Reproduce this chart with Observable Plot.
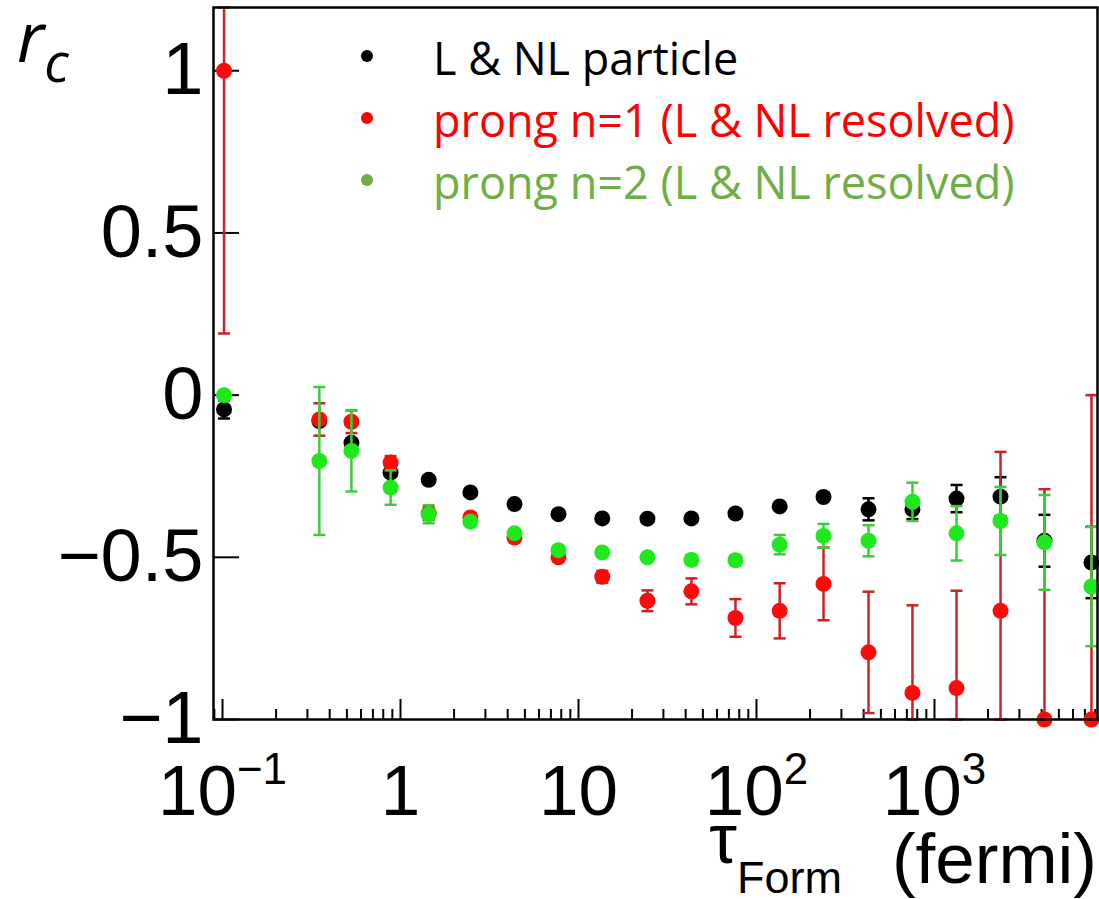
<!DOCTYPE html>
<html><head><meta charset="utf-8">
<script src="https://cdn.jsdelivr.net/npm/d3@7"></script>
<script src="https://cdn.jsdelivr.net/npm/@observablehq/plot@0.6"></script>
<style>html,body{margin:0;padding:0;background:#fff;} svg{display:block;}</style>
</head><body><div id="chart"></div>
<script>
// ---- data ----
const tau = [0.102, 0.35, 0.53, 0.88, 1.44, 2.47, 4.37, 7.72, 13.6, 24.4, 43.1, 76.2, 135, 238, 426, 752, 1330, 2350, 4150, 7620];
const blackY   = [-0.044, -0.08, -0.147, -0.239, -0.261, -0.300, -0.336, -0.367, -0.380, -0.381, -0.380, -0.365, -0.343, -0.314, -0.352, -0.352, -0.319, -0.313, -0.449, -0.516];
const blackErr = [0.028, 0.01, 0.01, 0.01, 0.01, 0.01, 0.01, 0.01, 0.01, 0.01, 0.01, 0.01, 0.01, 0.012, 0.034, 0.03, 0.042, 0.06, 0.08, 0.11];
const redY   = [1.0, -0.075, -0.082, -0.208, -0.365, -0.377, -0.439, -0.500, -0.560, -0.634, -0.605, -0.687, -0.665, -0.582, -0.793, -0.918, -0.903, -0.665, -1.0, -1.0];
const redErr = [0.81, 0.05, 0.035, 0.02, 0.02, 0.012, 0.012, 0.012, 0.018, 0.032, 0.04, 0.058, 0.085, 0.112, 0.187, 0.27, 0.30, 0.49, 0.71, 1.0];
const greenY   = [0.0, -0.203, -0.172, -0.285, -0.367, -0.390, -0.426, -0.478, -0.485, -0.500, -0.508, -0.509, -0.461, -0.434, -0.449, -0.329, -0.426, -0.388, -0.454, -0.590];
const greenErr = [0.005, 0.228, 0.125, 0.053, 0.028, 0.01, 0.01, 0.008, 0.008, 0.008, 0.015, 0.015, 0.03, 0.037, 0.048, 0.059, 0.084, 0.105, 0.146, 0.184];

const seriesNames = ["L & NL particle", "prong n=1 (L & NL resolved)", "prong n=2 (L & NL resolved)"];
const legendColors = ["#000000", "#ff0000", "#70ad47"];
const dotColors = ["#000000", "#ff0a0a", "#1fe81f"];
const barColors = ["#000000", "#cc2226", "#3ccc3c"];

const majorTicks = [0.1, 1, 10, 100, 1000];
const xTickLabels = ["10^\u22121", "1", "10", "10^2", "10^3"];
const yTicks = [-1, -0.5, 0, 0.5, 1];
const yTickLabels = ["\u22121", "\u22120.5", "0", "0.5", "1"];

const xDomain = [0.089, 8240];
const yDomain = [-1, 1.195];

// ---- layout ----
const W = 1099, H = 899, mL = 213, mR = 2, mT = 7, mB = 180;
const fw = W - mL - mR, fh = H - mT - mB;

const minorTicks = [];
for (let e = -2; e <= 3; e++) for (let m = 2; m <= 9; m++) {
  const v = m * Math.pow(10, e);
  if (v >= xDomain[0] && v <= xDomain[1]) minorTicks.push(v);
}

const allY = [blackY, redY, greenY], allE = [blackErr, redErr, greenErr];
const rowsBySeries = allY.map((ys, s) => tau.map((t, i) => ({
  x: t, y: ys[i],
  lo: Math.max(ys[i] - allE[s][i], yDomain[0]),
  hi: Math.min(ys[i] + allE[s][i], yDomain[1])
})));

const capSymbol = {draw(ctx, size) { const w = Math.sqrt(size / Math.PI); ctx.moveTo(-w, 0); ctx.lineTo(w, 0); }};

const marks = [
  Plot.tickX(minorTicks, {x: d => d, stroke: "#000", strokeWidth: 2, insetTop: fh - 10}),
  Plot.tickX(majorTicks, {x: d => d, stroke: "#000", strokeWidth: 2, insetTop: fh - 20}),
  Plot.tickY(yTicks, {y: d => d, stroke: "#000", strokeWidth: 2, insetRight: fw - 26})
];
rowsBySeries.forEach((rows, s) => {
  marks.push(Plot.ruleX(rows, {x: "x", y1: "lo", y2: "hi", stroke: barColors[s], strokeWidth: 2.5}));
  marks.push(Plot.dot(rows, {x: "x", y: "lo", symbol: capSymbol, r: 6, stroke: barColors[s], strokeWidth: 2.5, fill: "none"}));
  marks.push(Plot.dot(rows, {x: "x", y: "hi", symbol: capSymbol, r: 6, stroke: barColors[s], strokeWidth: 2.5, fill: "none"}));
  marks.push(Plot.dot(rows, {x: "x", y: "y", r: 8, fill: dotColors[s], stroke: "none"}));
});
marks.push(Plot.axisX(majorTicks, {tickSize: 0, tickPadding: 45, fontSize: 71, label: null,
  tickFormat: d => xTickLabels[majorTicks.indexOf(d)]}));
marks.push(Plot.axisY(yTicks, {tickSize: 0, tickPadding: 10, fontSize: 74, label: null,
  tickFormat: d => yTickLabels[yTicks.indexOf(d)]}));
marks.push(Plot.frame({stroke: "#000", strokeWidth: 2.5}));

const svg = Plot.plot({
  width: W, height: H,
  marginLeft: mL, marginRight: mR, marginTop: mT, marginBottom: mB,
  x: {type: "log", domain: xDomain},
  y: {domain: yDomain},
  style: {fontFamily: "'Liberation Sans', Arial, sans-serif", background: "#fff", color: "#000"},
  marks
});
document.getElementById("chart").appendChild(svg);

const S = d3.select(svg);
// superscripts on x tick labels
S.selectAll("g[aria-label='x-axis tick label'] text").each(function () {
  const t = this.textContent, i = t.indexOf("^");
  if (i < 0) return;
  this.textContent = t.slice(0, i);
  d3.select(this).append("tspan").attr("font-size", 44).attr("dy", -31).text(t.slice(i + 1));
});

// legend
const lg = S.append("g").attr("font-family", "'Open Sans', sans-serif").attr("font-size", 45);
seriesNames.forEach((name, i) => {
  const yb = 75 + i * 62;
  lg.append("circle").attr("cx", 367).attr("cy", yb - 19).attr("r", 6).attr("fill", legendColors[i]);
  lg.append("text").attr("x", 433).attr("y", yb).attr("text-anchor", "start").attr("fill", legendColors[i]).text(name);
});

// y title r_c
const yt = S.append("text").attr("x", 17).attr("y", 62).attr("text-anchor", "start")
  .attr("font-family", "'Open Sans', sans-serif")
  .attr("font-style", "italic").attr("font-size", 69).attr("fill", "#000");
yt.append("tspan").text("r");
yt.append("tspan").attr("font-size", 54).attr("dy", 20).text("c");

// x title tau_Form (fermi)
const xt = S.append("text").attr("x", 842).attr("y", 863).attr("text-anchor", "end")
  .attr("font-family", "'Liberation Sans', Arial, sans-serif").attr("font-size", 70).attr("fill", "#000");
xt.append("tspan").text("\u03c4");
xt.append("tspan").attr("font-size", 45).attr("dy", 30).text("Form");
S.append("text").attr("x", 1097).attr("y", 883).attr("text-anchor", "end")
  .attr("font-family", "'Liberation Sans', Arial, sans-serif").attr("font-size", 71).attr("fill", "#000").text("(fermi)");
</script>
</body></html>
